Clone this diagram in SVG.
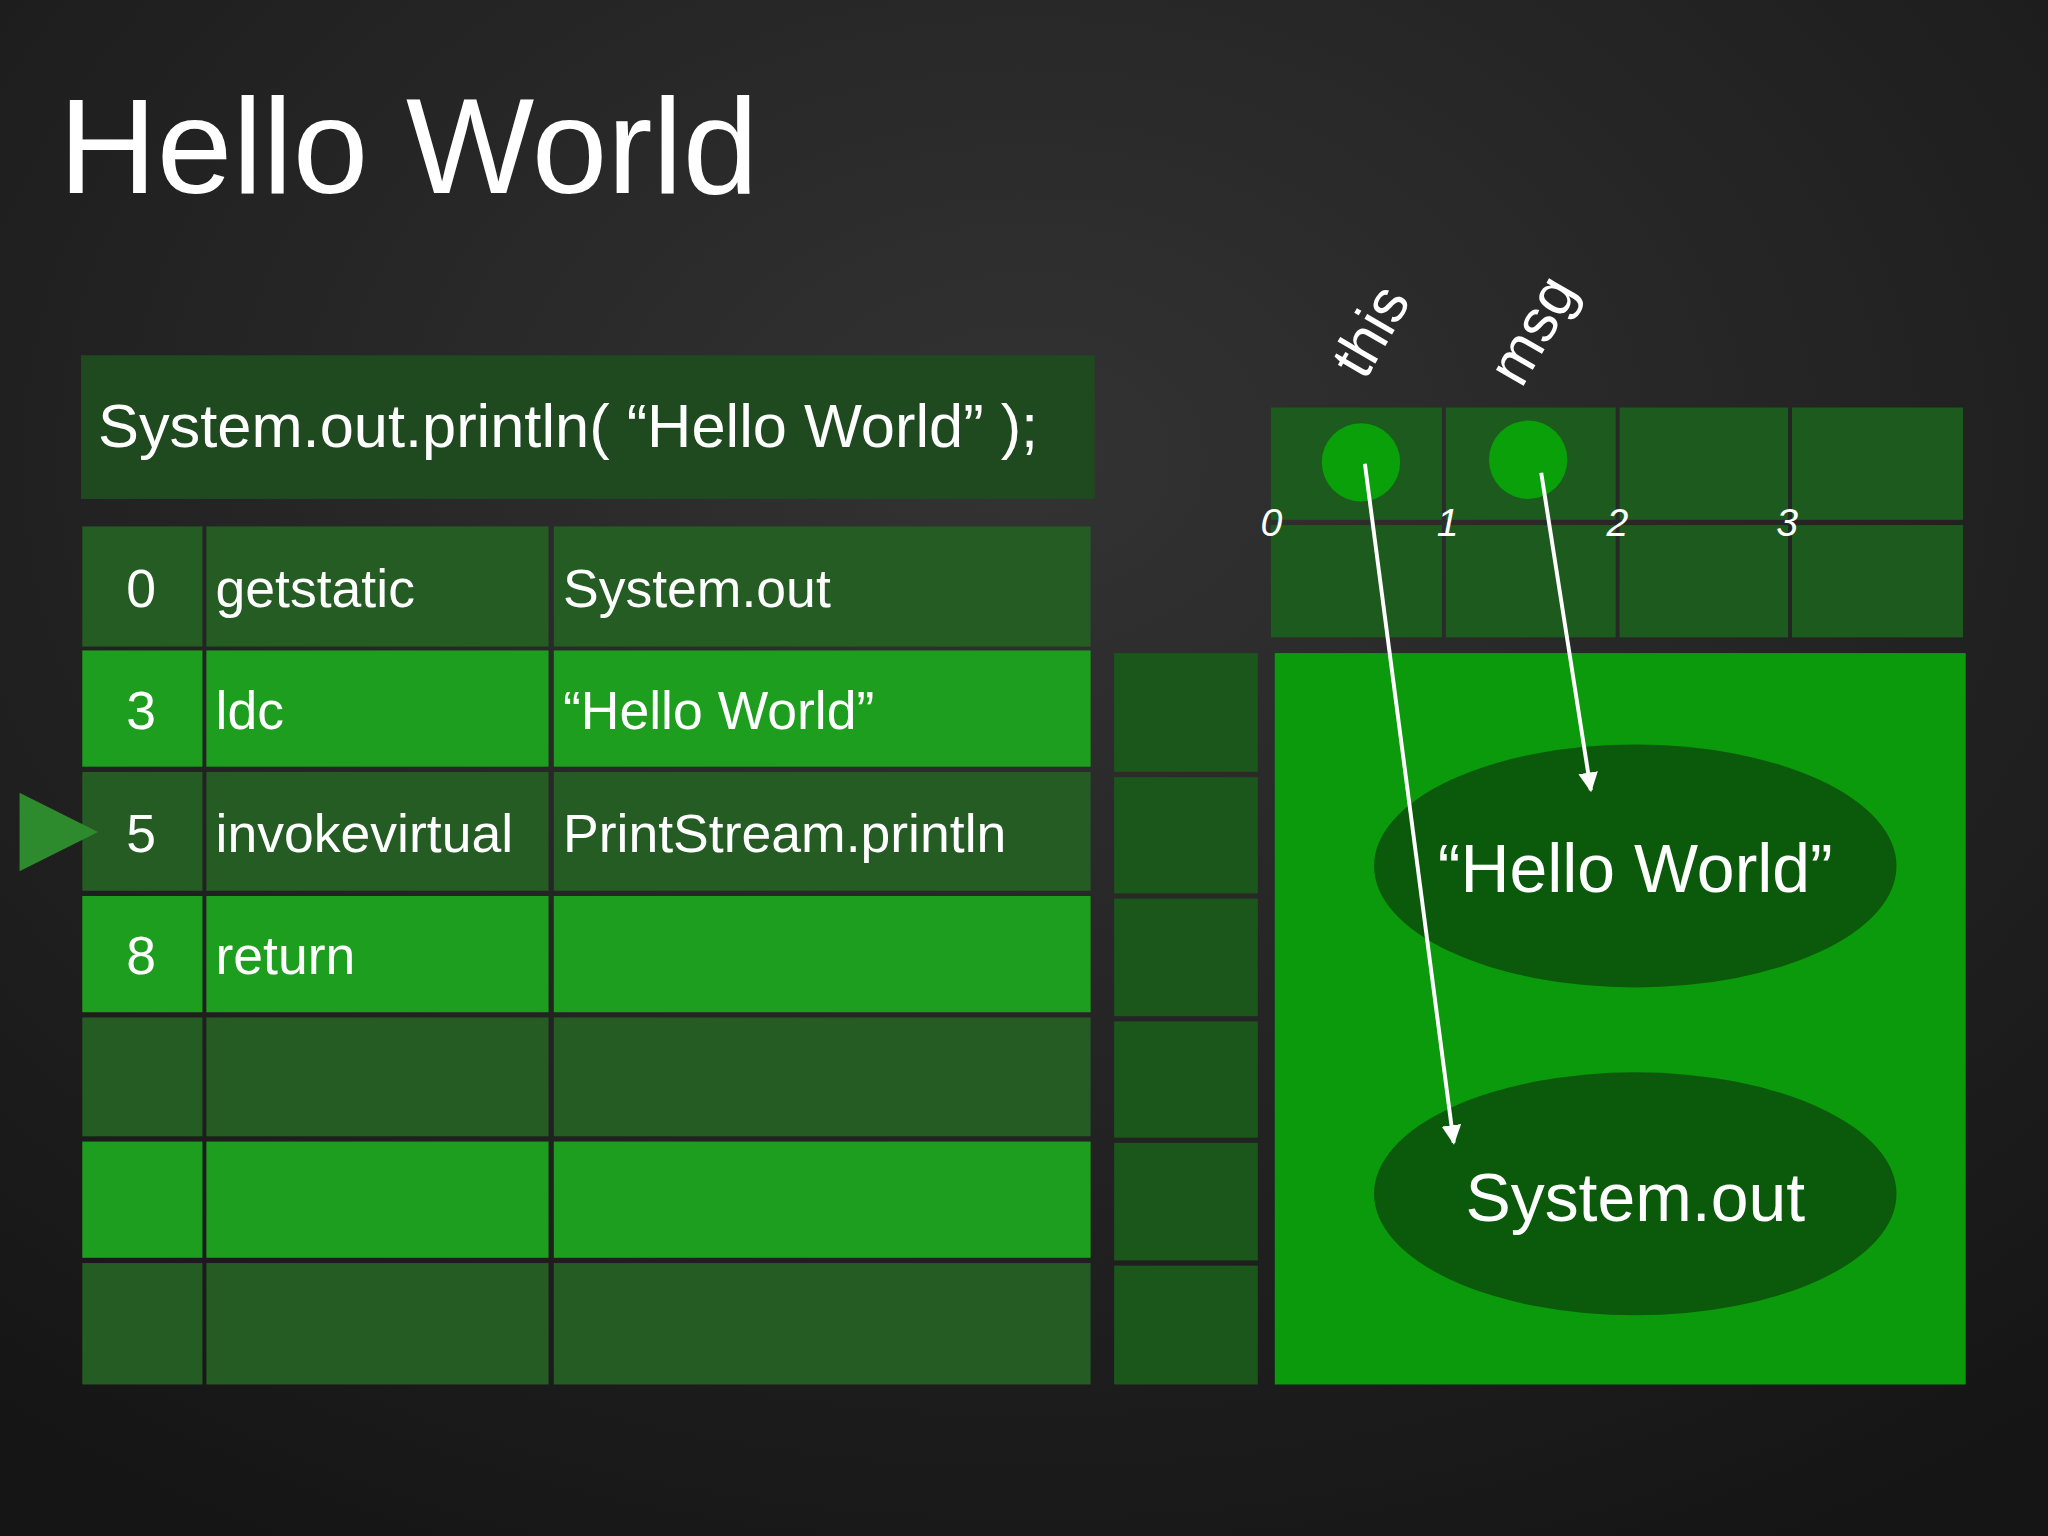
<svg xmlns="http://www.w3.org/2000/svg" width="2048" height="1536" viewBox="0 0 2048 1536">
<defs>
<radialGradient id="bg" cx="0.5" cy="0.3" r="0.8"><stop offset="0" stop-color="#333"/><stop offset="1" stop-color="#151515"/></radialGradient>
<marker id="ah" viewBox="0 0 10 10" refX="9" refY="5" markerWidth="5" markerHeight="5" orient="auto"><path d="M0,0 L10,5 L0,10 z" fill="#fff"/></marker>
<style>
text{font-family:"Liberation Sans",Arial,sans-serif;fill:#fff}
.t{font-size:41px}
.dk{fill:#245c24}.br{fill:#1e9e1e}.st{fill:#1b561b}.lc{fill:#1d5a1d}
.lbl{font-size:30px;font-style:italic}
</style>
</defs>
<rect width="2048" height="1536" fill="url(#bg)"/>
<g transform="scale(1.30612)">
<text x="45" y="148" font-size="104">Hello World</text>
<g id="code"><rect x="62" y="272" width="776" height="110" fill="#1f4a1f"/><text x="75" y="342" font-size="47">System.out.println( “Hello World” );</text></g>
<g id="table">
<g class="dk"><rect x="63" y="403" width="92" height="92"/><rect x="158" y="403" width="262" height="92"/><rect x="424" y="403" width="411" height="92"/></g>
<g class="br"><rect x="63" y="498" width="92" height="89"/><rect x="158" y="498" width="262" height="89"/><rect x="424" y="498" width="411" height="89"/></g>
<g class="dk"><rect x="63" y="591" width="92" height="91"/><rect x="158" y="591" width="262" height="91"/><rect x="424" y="591" width="411" height="91"/></g>
<g class="br"><rect x="63" y="686" width="92" height="89"/><rect x="158" y="686" width="262" height="89"/><rect x="424" y="686" width="411" height="89"/></g>
<g class="dk"><rect x="63" y="779" width="92" height="91"/><rect x="158" y="779" width="262" height="91"/><rect x="424" y="779" width="411" height="91"/></g>
<g class="br"><rect x="63" y="874" width="92" height="89"/><rect x="158" y="874" width="262" height="89"/><rect x="424" y="874" width="411" height="89"/></g>
<g class="dk"><rect x="63" y="967" width="92" height="93"/><rect x="158" y="967" width="262" height="93"/><rect x="424" y="967" width="411" height="93"/></g>
<g class="t">
<text x="108" y="465" text-anchor="middle">0</text><text x="165" y="465">getstatic</text><text x="431" y="465">System.out</text>
<text x="108" y="558" text-anchor="middle">3</text><text x="165" y="558">ldc</text><text x="431" y="558">“Hello World”</text>
<text x="108" y="652" text-anchor="middle">5</text><text x="165" y="652">invokevirtual</text><text x="431" y="652">PrintStream.println</text>
<text x="108" y="746" text-anchor="middle">8</text><text x="165" y="746">return</text>
</g>
</g>
<g id="pc"><polygon points="15,607 75,637 15,667" fill="#2d8a2d"/></g>
<g id="stack" class="st">
<rect x="853" y="500" width="110" height="91"/><rect x="853" y="595" width="110" height="89"/><rect x="853" y="688" width="110" height="90"/><rect x="853" y="782" width="110" height="89"/><rect x="853" y="875" width="110" height="90"/><rect x="853" y="969" width="110" height="91"/>
</g>
<g id="locals" class="lc">
<rect x="973" y="312" width="131" height="86"/><rect x="1107" y="312" width="130" height="86"/><rect x="1240" y="312" width="129" height="86"/><rect x="1372" y="312" width="131" height="86"/>
<rect x="973" y="402" width="131" height="86"/><rect x="1107" y="402" width="130" height="86"/><rect x="1240" y="402" width="129" height="86"/><rect x="1372" y="402" width="131" height="86"/>
</g>
<g class="lbl"><text x="965" y="410">0</text><text x="1100" y="410">1</text><text x="1230" y="410">2</text><text x="1360" y="410">3</text></g>
<text x="1045" y="292" font-size="46" transform="rotate(-60 1045 292)">this</text>
<text x="1165" y="298" font-size="46" transform="rotate(-60 1165 298)">msg</text>
<g id="heap"><rect x="976" y="500" width="529" height="560" fill="#0b9a0b"/></g>
<g id="obj1"><ellipse cx="1252" cy="663" rx="200" ry="93" fill="#0b5a0b"/><text x="1252" y="683" font-size="52" text-anchor="middle">“Hello World”</text></g>
<g id="obj2"><ellipse cx="1252" cy="914" rx="200" ry="93" fill="#0b5a0b"/><text x="1252" y="935" font-size="52" text-anchor="middle">System.out</text></g>
<g id="vars"><circle cx="1042" cy="354" r="30" fill="#0aa00a"/><circle cx="1170" cy="352" r="30" fill="#0aa00a"/></g>
<g id="connectors" stroke="#fff" stroke-width="3" fill="none" marker-end="url(#ah)">
<line x1="1045" y1="355" x2="1113" y2="875"/>
<line x1="1180" y1="362" x2="1218" y2="605"/>
</g>
</g>
</svg>
